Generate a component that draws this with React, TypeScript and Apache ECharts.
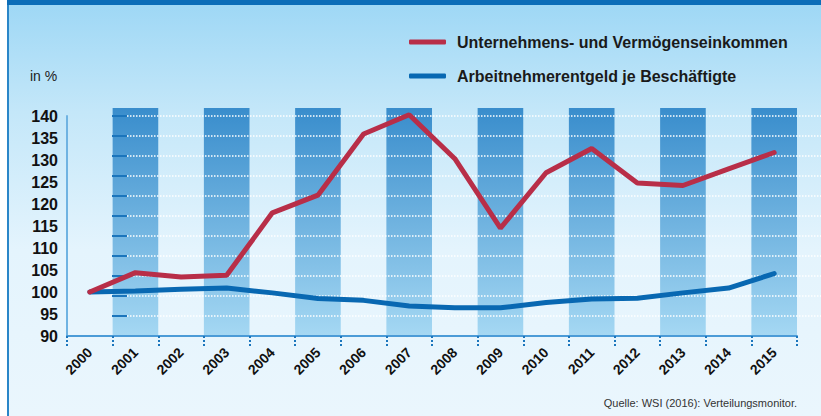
import React, { useEffect, useRef } from "react";
import * as echarts from "echarts";

const years = ["2000", "2001", "2002", "2003", "2004", "2005", "2006", "2007", "2008", "2009", "2010", "2011", "2012", "2013", "2014", "2015"];
const unternehmen = [100, 104.4, 103.4, 103.8, 118.0, 122.0, 135.9, 140.3, 130.3, 114.5, 127.1, 132.6, 124.8, 124.2, 128.0, 131.7];
const arbeitnehmer = [100, 100.2, 100.6, 100.9, 99.8, 98.5, 98.1, 96.8, 96.4, 96.4, 97.6, 98.4, 98.6, 99.8, 100.9, 104.2];
// background stripes: 1 = dark column
const stripes = [null, 1, null, 1, null, 1, null, 1, null, 1, null, 1, null, 1, null, 1];
const yMin = 90;
const yMax = 140;
const yStep = 5;
const gridSteps = 11;

const nameRed = "Unternehmens- und Vermögenseinkommen";
const nameBlue = "Arbeitnehmerentgeld je Beschäftigte";
const unitLabel = "in %";
const sourceText = "Quelle: WSI (2016): Verteilungsmonitor.";

const FONT = "'Liberation Sans', Arial, sans-serif";

export default function App() {
  const ref = useRef<HTMLDivElement>(null);
  useEffect(() => {
    if (!ref.current) return;
    const chart = echarts.init(ref.current, null, { renderer: "svg" });
    chart.setOption({
      animation: false,
      textStyle: { fontFamily: FONT },
      title: [
        { text: unitLabel, left: 30, top: 69, padding: 0, textStyle: { fontSize: 14, fontWeight: "normal", color: "#222", fontFamily: FONT } },
        { text: sourceText, right: 24, top: 397, padding: 0, textStyle: { fontSize: 11, fontWeight: "normal", color: "#333", fontFamily: FONT } },
      ],
      legend: {
        orient: "vertical",
        left: 404,
        top: 28,
        itemWidth: 37,
        itemHeight: 5,
        itemGap: 16,
        icon: "roundRect",
        data: [nameRed, nameBlue],
        textStyle: { fontSize: 16, fontWeight: "bold", color: "#1a1a1a", fontFamily: FONT, padding: [0, 0, 0, 6], lineHeight: 18 },
      },
      grid: [
        { left: 67, right: 24, top: 116, bottom: 80 },
        { left: 67, right: 24, top: 108, bottom: 80 },
        { left: 112, right: 0, top: 116, bottom: 80 },
      ],
      xAxis: [
        {
          gridIndex: 0,
          type: "category",
          data: years,
          boundaryGap: true,
          z: 4,
          axisLine: { lineStyle: { color: "#4b9bd7", width: 2 } },
          axisTick: { show: true, interval: 0, length: 12, lineStyle: { color: "#1b75bc", type: "dotted", width: 2 } },
          axisLabel: { interval: 0, rotate: 45, color: "#111", fontWeight: "bold", fontSize: 14, fontFamily: FONT, margin: 14 },
        },
        { gridIndex: 1, type: "category", data: years, show: false, boundaryGap: true },
        { gridIndex: 2, type: "value", show: false, min: 0, max: 1 },
      ],
      yAxis: [
        {
          gridIndex: 0,
          type: "value",
          min: yMin,
          max: yMax,
          interval: yStep,
          axisLine: { show: true, lineStyle: { color: "#6fb3e2", width: 2 } },
          axisTick: { show: false },
          splitLine: { show: false },
          axisLabel: { color: "#111", fontWeight: "bold", fontSize: 16, fontFamily: FONT, margin: 9 },
        },
        { gridIndex: 1, type: "value", min: 0, max: 1, show: false },
        {
          gridIndex: 2,
          type: "value",
          min: 0,
          max: gridSteps,
          interval: 1,
          offset: 45,
          z: 3,
          axisLine: { show: false },
          axisLabel: { show: false },
          axisTick: { show: true, inside: true, length: 15, lineStyle: { color: "#1b75bc", width: 2 } },
          splitLine: { show: true, showMinLine: false, lineStyle: { color: "#ffffff", type: "dotted", width: 1.5 } },
        },
      ],
      series: [
        {
          type: "bar",
          xAxisIndex: 1,
          yAxisIndex: 1,
          data: stripes,
          barWidth: "100%",
          silent: true,
          z: 1,
          itemStyle: {
            color: new echarts.graphic.LinearGradient(0, 0, 0, 1, [
              { offset: 0, color: "#398dcc" },
              { offset: 1, color: "#a5d8f3" },
            ]),
          },
        },
        {
          name: nameBlue,
          type: "line",
          data: arbeitnehmer,
          symbol: "none",
          clip: false,
          z: 5,
          color: "#0868b2",
          lineStyle: { width: 5, color: "#0868b2", cap: "round" },
        },
        {
          name: nameRed,
          type: "line",
          data: unternehmen,
          symbol: "none",
          clip: false,
          z: 6,
          color: "#b82e48",
          lineStyle: { width: 5, color: "#b82e48", cap: "round" },
        },
      ],
    });
    return () => chart.dispose();
  }, []);

  return (
    <div
      style={{
        position: "absolute",
        left: 0,
        top: 0,
        width: 821,
        height: 416,
        background: "linear-gradient(to bottom, #9dd7f5 0%, #c4e7f9 27%, #e4f4fd 60%, #eaf6fd 100%)",
        overflow: "hidden",
      }}
    >
      <div style={{ position: "absolute", left: 0, top: 0, width: 7, height: 416, background: "#ffffff" }} />
      <div style={{ position: "absolute", left: 7, top: 0, width: 2, height: 416, background: "#2a86c8" }} />
      <div style={{ position: "absolute", left: 7, top: 0, width: 814, height: 5, background: "#0b6db8" }} />
      <div ref={ref} style={{ position: "absolute", left: 0, top: 0, width: 821, height: 416 }} />
    </div>
  );
}
